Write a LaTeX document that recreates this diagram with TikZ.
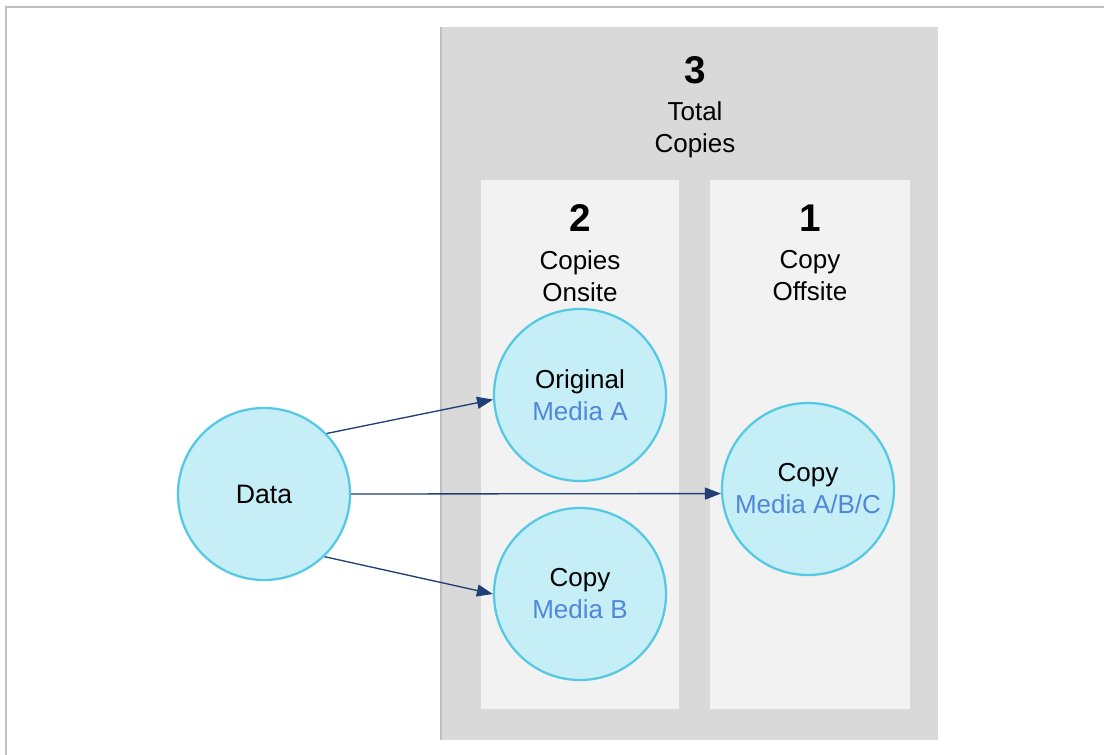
\documentclass[tikz,border=0pt]{standalone}
\usepackage{fontspec}
\setmainfont{Liberation Sans}
\usetikzlibrary{arrows.meta}
\definecolor{panelgray}{HTML}{D9D9D9}
\definecolor{innergray}{HTML}{F2F2F2}
\definecolor{framegray}{HTML}{BFBFBF}
\definecolor{bubblefill}{HTML}{C6EEF7}
\definecolor{bubbleline}{HTML}{55C8E3}
\definecolor{mediablue}{HTML}{5087D8}
\definecolor{arrowblue}{HTML}{1F3F75}

\begin{document}
\begin{tikzpicture}[x=0.75pt,y=-0.75pt,>={Triangle[length=12pt,width=9pt]},
bubble/.style={circle,minimum size=129pt,inner sep=0pt,line width=1.7pt,draw=bubbleline,fill=bubblefill,align=center,font=\fontsize{19.5}{24}\selectfont},
countnum/.style={font=\fontsize{29}{30}\selectfont\bfseries},
counttxt/.style={align=center,font=\fontsize{19.5}{24}\selectfont},
]
\useasboundingbox (0,0) rectangle (1104,754);
\draw[framegray,line width=1.5pt] (6,770)--(6,7)--(1120,7);
% panels
\fill[panelgray] (441,27) rectangle (938,740);
\draw[framegray,line width=1pt] (441,27)--(441,740);
\fill[innergray] (481,180) rectangle (679,709);
\fill[innergray] (710,180) rectangle (910,709);
% headings
\node[countnum](three) at (695,70){3};
\node[counttxt](total) at (695,130){Total\\Copies};
\node[countnum](two) at (580,218){2};
\node[counttxt](onsite) at (580,276){Copies\\Onsite};
\node[countnum](one) at (810,218){1};
\node[counttxt](offsite) at (810,276){Copy\\Offsite};
% circles
\node[bubble](data) at (264,494){\fontsize{20}{24}\selectfont Data};
\node[bubble](orig) at (580,395){Original\\\textcolor{mediablue}{Media A}};
\node[bubble](copyB) at (580,594){Copy\\\textcolor{mediablue}{Media B}};
\node[bubble](copyABC) at (808,489){Copy\\\textcolor{mediablue}{Media A/B/C}};
\begin{scope}[->, arrowblue, line width=1pt]
 \draw (data.44)--(orig.183);
 \draw (data.east)--(copyABC.183);
 \draw (data.-46)--(copyB.west);
\end{scope}
\end{tikzpicture}
\end{document}
